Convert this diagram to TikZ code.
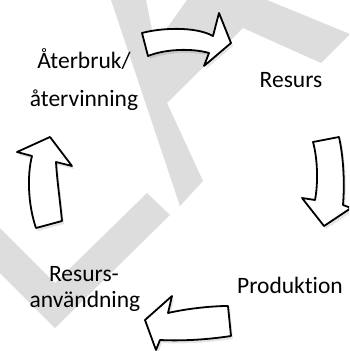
\documentclass[tikz,border=0pt]{standalone}
\usepackage{fontspec}
\setmainfont{Carlito}[Ligatures={NoCommon}]
\definecolor{wmgray}{RGB}{221,221,221}
\def\arrTop{(142,33) .. controls (160,28) and (195,26) .. (213,36) -- (219,13) -- (231,43) -- (204,66) -- (209,53) .. controls (192,48) and (165,49) .. (148,56) -- cycle}
\def\arrRight{(339,137) .. controls (343,155) and (345,180) .. (343,205) -- (351,208) -- (324,226) -- (302,198) -- (315,200) .. controls (318,185) and (318,160) .. (313,142) -- cycle}
\def\arrBottom{(228,306) .. controls (210,306) and (185,309) .. (168,313) -- (172,296) -- (145,320) -- (156,350) -- (160,340) .. controls (180,341) and (205,340) .. (231,336) -- cycle}
\def\arrLeft{(32,156) -- (17,152) -- (50,137) -- (72,166) -- (56,162) .. controls (57,180) and (60,200) .. (62,221) -- (36,228) .. controls (28,205) and (27,175) .. (32,156) -- cycle}
\begin{document}
\begin{tikzpicture}[x=1pt,y=-1pt,
  wm/.style={fill=wmgray},
  blockarrow/.style={fill=white,draw=black,line width=1.8pt,line join=round},
  arrowshadow/.style={fill=black,opacity=0.10},
  lbl/.style={font=\fontsize{23.5}{28}\selectfont,anchor=base,inner sep=0pt}]
\useasboundingbox (0,0) rectangle (349,351);
\fill[white] (0,0) rectangle (349,351);
\clip (0,0) rectangle (349,351);
% watermark
\fill[wm] (111,0) -- (146,0) -- (155,45) -- (187,0) -- (267,0) -- (350,34) -- (321,63) -- (243,28) -- (167,103) -- (203,181) -- (180,206) -- cycle;
\fill[wm] (0,228) -- (55,283) -- (147,193) -- (170,215) -- (55,328) -- (0,273) -- cycle;
% shadows
\begin{scope}[shift={(2,3)}]
\fill[arrowshadow] \arrTop;
\fill[arrowshadow] \arrRight;
\fill[arrowshadow] \arrBottom;
\fill[arrowshadow] \arrLeft;
\end{scope}
% arrows
\filldraw[blockarrow] \arrTop;
\filldraw[blockarrow] \arrRight;
\filldraw[blockarrow] \arrBottom;
\filldraw[blockarrow] \arrLeft;
% labels
\node[lbl] (reuse1) at (84,68) {Återbruk/};
\node[lbl] (reuse2) at (84,106) {återvinning};
\node[lbl] (res) at (291,87) {Resurs};
\node[lbl] (prod) at (290,293) {Produktion};
\node[lbl] (use1) at (84,281) {Resurs-};
\node[lbl] (use2) at (85,307) {användning};
\end{tikzpicture}
\end{document}
